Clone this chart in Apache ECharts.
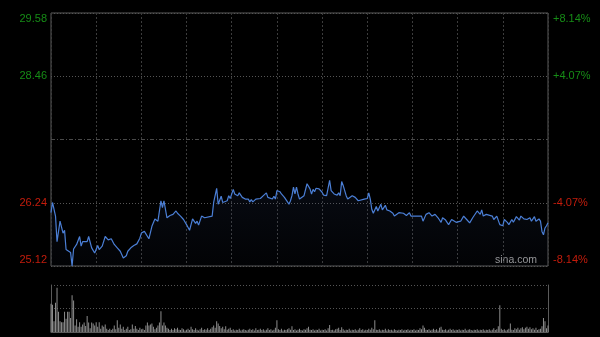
<!DOCTYPE html>
<html><head><meta charset="utf-8">
<script src="https://cdn.jsdelivr.net/npm/echarts@6/dist/echarts.min.js"></script>
<style>html,body{margin:0;padding:0;background:#000;}#c{width:600px;height:337px;}</style>
</head><body><div id="c"></div>
<script>
// ---- data ----
const prevClose = 27.35;
const priceTickLabels = ['25.12', '26.24', '', '28.46', '29.58'];
const pctTickLabels = ['-8.14%', '-4.07%', '', '+4.07%', '+8.14%'];
const priceMinutes = [0,1,3,4,6,8,9,10,13,14,15,17,19,20,21,24,25,27,29,31,32,34,36,38,40,42,44,46,48,50,51,53,55,57,59,60,62,63,65,67,69,71,73,74,75,77,79,81,83,84,
86,88,90,92,94,96,97,98,100,102,103,107,108,110,111,113,114,117,118,119,121,122,124,125,127,129,131,132,133,134,136,139,141,143,144,145,147,148,149,150,152,153,155,158,159,160,161,162,163,164,165,168,170,172,173,174,175,176,178,180,181,183,185,186,188,190,191,192,193,194,196,197,200,202,204,
205,208,210,211,212,213,214,216,217,219,220,222,223,225,227,228,231,234,236,238,239,246,247,249,251,253,255,257,259,260,262,264,266,269,272,274,276,278,280,283,284,285,286,287,289,293,294,296,298,300,301,303,304,306,307,309,311,312,314,316,318,319,321,322,324,325,326,327,328,329,330];
const priceValues = [26.06,26.24,26.00,25.55,25.91,25.70,25.75,25.41,25.36,25.12,25.42,25.50,25.64,25.47,25.55,25.55,25.64,25.44,25.35,25.48,25.41,25.47,25.64,25.58,25.60,25.50,25.44,25.38,25.26,25.30,25.38,25.44,25.48,25.51,25.61,25.70,25.73,25.70,25.60,25.82,25.95,25.91,26.27,26.15,26.27,25.97,26.01,26.03,26.09,26.05,
26.00,25.94,25.85,25.75,25.95,25.87,25.91,25.84,26.00,25.97,26.00,26.00,26.24,26.49,26.21,26.35,26.24,26.27,26.36,26.31,26.47,26.39,26.36,26.41,26.33,26.30,26.30,26.25,26.29,26.25,26.30,26.31,26.36,26.41,26.33,26.35,26.30,26.35,26.30,26.45,26.43,26.39,26.33,26.21,26.27,26.36,26.51,26.39,26.51,26.39,26.30,26.36,26.57,26.48,26.39,26.47,26.43,26.49,26.48,26.42,26.37,26.36,26.63,26.45,26.39,26.37,26.41,26.36,26.61,26.54,26.36,26.30,26.36,26.33,26.27,
26.29,26.30,26.31,26.41,26.30,26.12,26.05,26.17,26.09,26.21,26.11,26.19,26.11,26.09,26.05,26.00,26.06,26.05,26.01,26.06,26.00,26.00,25.91,26.03,26.06,26.00,26.03,25.97,25.89,25.97,25.93,25.85,25.94,25.89,25.91,26.00,25.94,25.88,25.97,26.09,26.11,26.03,26.11,26.00,26.03,26.00,25.94,26.00,25.85,25.83,25.94,25.89,25.85,25.94,25.89,25.99,25.93,26.00,25.95,25.94,25.97,25.91,25.99,25.91,25.95,25.91,25.73,25.67,25.79,25.83,25.88];
const volumes = [60,58,23,62,94,43,23,21,21,43,
28,43,43,30,78,67,14,27,11,21,
11,16,20,13,34,20,8,20,18,14,
21,11,21,7,14,11,16,7,4,7,
4,7,14,6,25,9,16,7,11,4,
7,11,4,6,16,7,13,7,4,9,
6,7,4,14,20,14,16,18,11,6,
9,14,20,44,14,20,14,9,7,4,
7,4,8,6,9,5,4,8,6,3,
5,7,4,11,6,4,8,5,3,6,
9,4,6,5,8,4,7,10,14,9,
23,18,13,8,11,6,12,5,7,9,
4,6,3,5,4,7,3,5,6,4,
3,5,7,4,6,3,8,4,5,7,
4,6,3,5,8,4,6,3,5,9,
25,6,4,7,3,5,4,6,8,5,
12,4,6,3,5,7,4,3,6,5,
8,11,5,4,6,3,5,4,7,3,
5,4,6,3,8,15,4,5,3,6,
7,9,4,10,6,3,5,4,7,3,
5,4,6,3,5,8,4,6,3,5,
4,7,5,9,6,25,5,4,6,3,
5,4,7,3,6,4,5,3,6,4,
3,5,4,6,3,5,4,6,3,5,
4,6,3,5,4,8,6,14,9,5,
4,6,3,5,7,4,6,3,9,11,
5,4,6,3,5,7,4,6,3,5,
4,6,3,5,4,7,3,5,6,4,
3,5,4,6,3,5,4,6,3,5,
4,6,3,5,8,4,6,12,57,7,
4,6,3,5,7,18,5,4,8,6,
9,5,8,10,6,9,11,7,10,6,
8,5,9,4,6,7,12,30,23,8,
14];
// ---- build ----
const STEP = 1115; // axis units: price offset in thousandths
const lineData = priceMinutes.map((m, i) => [m, Math.round((priceValues[i] - prevClose) * 1000)]);
const volData = volumes.map((v, i) => [i, v]);
const idx = v => Math.round(v / STEP) + 2;
const green = '#168c16', red = '#c41c0c';
const font = 'Liberation Sans, Arial, sans-serif';
const rich = {
  t: {padding: [12, 0, 0, 0], fontSize: 11, fontFamily: font},
  b: {padding: [0, 0, 12, 0], fontSize: 11, fontFamily: font},
  m: {fontSize: 11, fontFamily: font}
};
function fmt(arr) {
  return v => { const i = idx(v); const s = arr[i]; if (!s) return ''; const k = i === 4 ? 't' : (i === 0 ? 'b' : 'm'); return '{' + k + '|' + s + '}'; };
}
const col = v => (v > 0 ? green : red);
const chart = echarts.init(document.getElementById('c'), null, {renderer: 'canvas'});
chart.setOption({
  backgroundColor: '#000',
  animation: false,
  grid: [
    {left: 51, top: 13, width: 497, height: 253, show: true, borderColor: '#5a5a5a', borderWidth: 1, backgroundColor: 'transparent'},
    {left: 51, top: 285, width: 497, height: 47}
  ],
  xAxis: [
    {gridIndex: 0, type: 'value', min: 0, max: 330, interval: 30,
     axisLine: {show: false}, axisTick: {show: false}, axisLabel: {show: false},
     splitLine: {show: true, lineStyle: {color: '#3c3c3c', type: [2, 2], width: 1}}},
    {gridIndex: 1, type: 'value', min: 0, max: 330, interval: 30,
     axisLine: {show: true, lineStyle: {color: '#5a5a5a'}}, axisTick: {show: false}, axisLabel: {show: false},
     splitLine: {show: false}}
  ],
  yAxis: [
    {gridIndex: 0, type: 'value', min: -2 * STEP, max: 2 * STEP, interval: STEP, position: 'left',
     axisLine: {show: false}, axisTick: {show: false},
     axisLabel: {formatter: fmt(priceTickLabels), color: col, margin: 4, rich},
     splitLine: {show: true, lineStyle: {color: '#555', type: [1, 2], width: 1}}},
    {gridIndex: 0, type: 'value', min: -2 * STEP, max: 2 * STEP, interval: STEP, position: 'right',
     axisLine: {show: false}, axisTick: {show: false},
     axisLabel: {formatter: fmt(pctTickLabels), color: col, margin: 5, rich},
     splitLine: {show: false}},
    {gridIndex: 1, type: 'value', min: 0, max: 100, interval: 50, position: 'left',
     axisLine: {show: true, lineStyle: {color: '#5a5a5a'}}, axisTick: {show: false}, axisLabel: {show: false},
     splitLine: {show: true, lineStyle: {color: '#555', type: [1, 2]}}},
    {gridIndex: 1, type: 'value', min: 0, max: 100, interval: 50, position: 'right',
     axisLine: {show: true, lineStyle: {color: '#5a5a5a'}}, axisTick: {show: false}, axisLabel: {show: false},
     splitLine: {show: false}}
  ],
  series: [
    {type: 'line', xAxisIndex: 0, yAxisIndex: 0, data: lineData, showSymbol: false, symbol: 'none',
     lineStyle: {color: '#4b7fd6', width: 1.2},
     areaStyle: {origin: 'start', color: new echarts.graphic.LinearGradient(0, 0, 0, 1, [
       {offset: 0, color: 'rgba(50,70,120,0.22)'}, {offset: 1, color: 'rgba(50,70,120,0.06)'}])},
     markLine: {silent: true, symbol: 'none', label: {show: false},
       lineStyle: {color: '#4a4a4a', type: [4, 2, 1, 2], width: 1}, data: [{yAxis: 0}]}},
    {type: 'bar', xAxisIndex: 1, yAxisIndex: 2, data: volData, barWidth: 1,
     itemStyle: {color: '#8c8c8c'}}
  ],
  graphic: [
    {type: 'text', right: 63, top: 255, style: {text: 'sina.com', fill: '#9a9a9a', font: '10.5px ' + font}}
  ]
});
</script></body></html>
